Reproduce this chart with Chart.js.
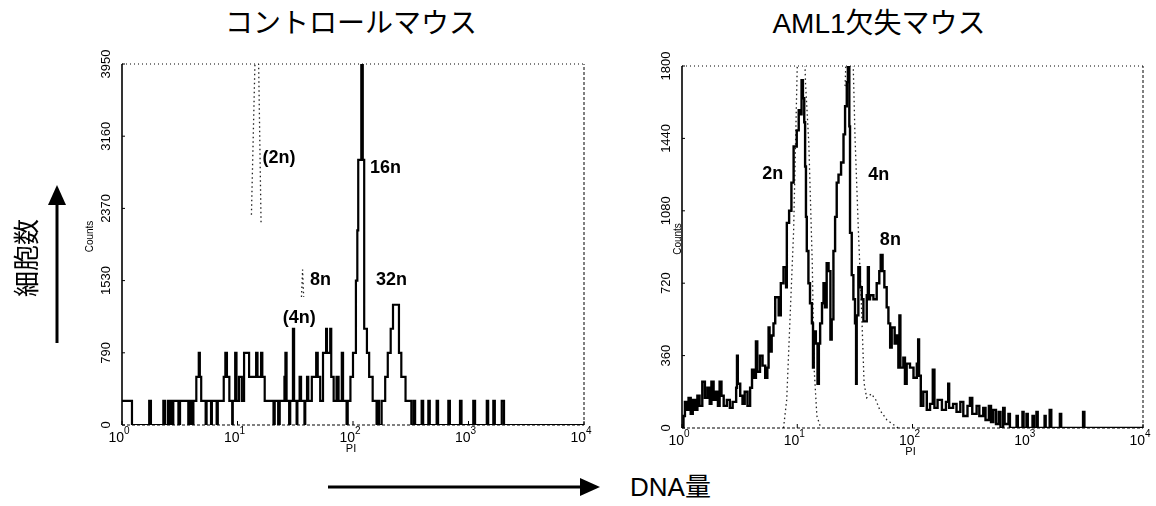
<!DOCTYPE html>
<html lang="ja">
<head>
<meta charset="utf-8">
<title>DNA量ヒストグラム</title>
<script src="https://cdn.jsdelivr.net/npm/chart.js@4.4.1/dist/chart.umd.min.js"></script>
<style>
  html, body { margin: 0; padding: 0; background: #fff; }
  body { width: 1156px; height: 506px; position: relative; overflow: hidden; color: #000; }
  canvas { position: absolute; top: 0; }
  #ctrl-chart { left: 0; }
  #aml-chart { left: 600px; }
  .title { position: absolute; top: 9px; font: 28px/30px "Liberation Sans", "Noto Sans CJK JP", sans-serif; transform: translateX(-50%); white-space: nowrap; }
  #y-label { position: absolute; left: 25px; top: 258px; font: 26px/26px "Noto Sans CJK JP", sans-serif; transform: translate(-50%, -50%) rotate(-90deg); white-space: nowrap; }
  #x-label { position: absolute; left: 630px; top: 473px; font: 26px/28px "Liberation Sans", "Noto Sans CJK JP", sans-serif; white-space: nowrap; }
  svg { position: absolute; left: 0; top: 0; }
</style>
</head>
<body>
<div class="title" style="left: 351px;">コントロールマウス</div>
<div class="title" style="left: 879px;">AML1欠失マウス</div>
<canvas id="ctrl-chart" width="600" height="470"></canvas>
<canvas id="aml-chart" width="556" height="470"></canvas>
<div id="y-label">細胞数</div>
<div id="x-label">DNA量</div>
<svg width="1156" height="506">
  <line x1="57" y1="343" x2="57" y2="200" stroke="#000" stroke-width="3"/>
  <polygon points="57,185 48,205 66,205" fill="#000"/>
  <line x1="328" y1="487" x2="584" y2="487" stroke="#000" stroke-width="3"/>
  <polygon points="600,487 580,478 580,496" fill="#000"/>
</svg>
<script>
// control mouse, PI channel value -> counts (step histogram)
const ctrl_pi = [
    1.0, 1.22, 1.72, 1.78, 2.28, 2.36, 2.5, 2.58, 2.64, 2.72,
    2.78, 3.08, 3.18, 3.75, 3.88, 4.05, 4.15, 4.4, 4.62, 4.72,
    4.85, 5.3, 5.4, 5.9, 6.0, 6.6, 6.75, 7.6, 7.85, 8.1,
    8.5, 9.0, 9.1, 9.55, 9.8, 10.3, 10.9, 11.4, 12.6, 14.5,
    14.9, 16.0, 16.4, 17.2, 20.5, 21.0, 22.5, 23.2, 25.5, 26.0,
    26.6, 28.0, 28.6, 30.2, 30.9, 32.5, 33.0, 34.5, 35.5, 38.0,
    38.6, 40.0, 41.0, 44.0, 48.0, 49.5, 52.0, 55.0, 58.5, 59.5,
    63.5, 64.8, 68.0, 72.0, 75.0, 80.0, 82.0, 88.0, 90.0, 95.0,
    100, 106, 109, 111, 118, 121.5, 125, 132, 138, 148,
    160, 165, 168, 177, 190, 200, 212, 222, 250, 262,
    285, 320, 335, 345, 393, 405, 449, 462, 530, 545,
    669, 690, 844, 870, 1100, 1140, 1440, 1480, 1640, 1690,
    1940, 2030, 10000
];
const ctrl_counts = [
    263, 0, 263, 0, 263, 0, 263, 0, 263, 0,
    263, 0, 263, 0, 263, 0, 263, 526, 790, 526,
    263, 0, 263, 0, 263, 0, 263, 526, 790, 526,
    263, 0, 263, 790, 263, 526, 263, 790, 526, 790,
    526, 790, 526, 263, 0, 263, 0, 263, 526, 790,
    263, 0, 263, 1053, 263, 0, 263, 526, 263, 0,
    263, 526, 263, 526, 790, 526, 263, 790, 1053, 790,
    1053, 526, 263, 526, 263, 790, 263, 0, 263, 526,
    790, 1580, 2130, 2900, 3950, 2900, 1053, 790, 526, 263,
    0, 263, 0, 263, 526, 790, 1053, 1316, 790, 526,
    263, 0, 263, 0, 263, 0, 263, 0, 263, 0,
    263, 0, 263, 0, 263, 0, 263, 0, 263, 0,
    263, 0, 0
];
// dotted reference trace
const ctrl_ref_pi = [13.2, 14.8, 16.0, 16.0, 35.8, 36.6, 37.4];
const ctrl_ref_counts = [2300, 5000, 2200, null, 1400, 1700, 1400];

// AML1 deficient mouse
const aml_pi = [
    1.0, 1.03, 1.06, 1.10, 1.14, 1.19, 1.24, 1.30, 1.36, 1.42,
    1.50, 1.58, 1.66, 1.74, 1.80, 1.88, 1.96, 2.05, 2.12, 2.2,
    2.3, 2.45, 2.6, 2.75, 2.95, 3.0, 3.05, 3.2, 3.35, 3.5,
    3.7, 3.9, 4.05, 4.25, 4.38, 4.5, 4.75, 5.0, 5.27, 5.5,
    5.64, 5.75, 6.0, 6.22, 6.44, 6.9, 7.2, 7.6, 8.0, 8.12,
    8.5, 8.9, 9.3, 9.9, 10.3, 10.7, 10.9, 11.2, 11.5, 11.7,
    11.9, 12.1, 12.5, 12.9, 13.4, 13.7, 13.9, 14.5, 15.0, 15.4,
    15.8, 16.4, 16.9, 17.4, 18.0, 18.7, 19.4, 19.9, 20.6, 21.3,
    22.0, 22.8, 24.0, 25.2, 26.0, 26.9, 27.5, 28.3, 28.7, 29.7,
    30.7, 31.7, 32.4, 32.8, 33.9, 35.0, 36.3, 37.5, 40.1, 41.0,
    41.8, 42.8, 45.8, 48.9, 51.5, 53.0, 55.0, 57.0, 59.7, 61.8,
    64, 66, 70, 72.9, 75.4, 77, 78.5, 83.3, 86, 89,
    95.1, 102, 109, 112, 114, 118, 124, 133, 142, 150,
    155, 165, 180, 195, 204, 208, 225, 241, 260, 276,
    300, 315, 330, 360, 380, 411, 430, 460, 480, 502,
    530, 560, 580, 612, 630, 680, 700, 800, 820, 900,
    920, 975, 1000, 1100, 1130, 1190, 1220, 1400, 1430, 1550,
    1600, 1900, 1950, 3020, 3100, 10000
];
const aml_counts = [
    0, 60, 130, 90, 150, 70, 140, 90, 160, 110,
    230, 150, 200, 120, 230, 140, 180, 110, 230, 160,
    110, 140, 100, 130, 200, 360, 220, 160, 120, 180,
    110, 200, 290, 250, 430, 280, 360, 310, 250, 300,
    500, 380, 460, 520, 650, 560, 720, 800, 700, 1020,
    1080, 1220, 1400, 1480, 1580, 1560, 1730, 1640, 1520, 1300,
    1050, 880, 720, 620, 520, 300, 480, 420, 220, 420,
    520, 620, 720, 600, 820, 780, 440, 540, 880, 1050,
    1220, 1260, 1320, 1460, 1600, 1720, 1800, 1500, 970, 760,
    640, 520, 220, 560, 800, 700, 640, 530, 660, 800,
    640, 660, 640, 720, 780, 860, 780, 700, 600, 520,
    400, 500, 420, 460, 300, 560, 300, 350, 220, 320,
    300, 250, 320, 440, 260, 110, 180, 90, 120, 290,
    100, 140, 90, 130, 220, 100, 120, 80, 130, 60,
    110, 150, 70, 110, 60, 100, 40, 110, 30, 90,
    20, 80, 0, 100, 20, 70, 0, 60, 0, 80,
    0, 70, 0, 60, 0, 80, 0, 60, 0, 90,
    0, 70, 0, 80, 0, 0
];
const aml_ref_pi = [7.6, 8.1, 9.3, 10.0, 11.0, 11.8, 12.6, 13.5, 14.0, 14.8, 16.0, 16.0,
    26.0, 28.0, 30.0, 31.7, 33.9, 36.0, 38.0, 40.0, 44.0, 48.0, 52.0, 60.0, 75.0];
const aml_ref_counts = [0, 140, 980, 1800, 2300, 1714, 1415, 820, 300, 60, 0, null,
    1700, 2200, 2000, 1450, 985, 620, 224, 150, 170, 140, 90, 40, 0];

const decade_ticks = [1, 10, 100, 1000, 10000];
const ctrl_y_ticks = [0, 790, 1580, 2370, 3160, 3950];
const ctrl_y_labels = ["0", "790", "1530", "2370", "3160", "3950"];
const aml_y_ticks = [0, 360, 720, 1080, 1440, 1800];
const aml_y_labels = ["0", "360", "720", "1080", "1440", "1800"];

const ctrl_notes = [
    { text: "(2n)", pi: 16.5, count: 2920 },
    { text: "16n", pi: 140, count: 2810 },
    { text: "8n", pi: 42.4, count: 1586 },
    { text: "32n", pi: 158, count: 1586 },
    { text: "(4n)", pi: 24.6, count: 1170 }
];
const aml_notes = [
    { text: "2n", pi: 4.96, count: 1263 },
    { text: "4n", pi: 41.4, count: 1258 },
    { text: "8n", pi: 52.1, count: 935 }
];

const to_points = (xs, ys) => xs.map((x, i) => ({ x: x, y: ys[i] }));

const frame_plugin = {
    id: "frame",
    afterDatasetsDraw(chart, args, opts) {
        const ctx = chart.ctx;
        const a = chart.chartArea;
        const x = chart.scales.x;
        const y = chart.scales.y;
        ctx.save();
        ctx.strokeStyle = "#000";
        ctx.fillStyle = "#000";

        ctx.lineWidth = 1.6;
        ctx.beginPath();
        ctx.moveTo(a.left, a.top);
        ctx.lineTo(a.left, a.bottom);
        ctx.stroke();

        ctx.lineWidth = 1;
        ctx.setLineDash([3, 2]);
        ctx.beginPath();
        ctx.moveTo(a.left, a.bottom);
        ctx.lineTo(a.right, a.bottom);
        ctx.moveTo(a.right, a.bottom);
        ctx.lineTo(a.right, a.top);
        ctx.stroke();
        ctx.setLineDash([1, 3]);
        ctx.beginPath();
        ctx.moveTo(a.left, a.top);
        ctx.lineTo(a.right, a.top);
        ctx.stroke();
        ctx.setLineDash([]);

        // y ticks, labels turned to read upward
        ctx.font = "13px 'Liberation Sans', Arial, sans-serif";
        ctx.textAlign = "center";
        ctx.textBaseline = "middle";
        opts.y_ticks.forEach((v, i) => {
            const py = y.getPixelForValue(v);
            ctx.beginPath();
            ctx.moveTo(a.left, py);
            ctx.lineTo(a.left + 3, py);
            ctx.stroke();
            ctx.save();
            ctx.translate(opts.tick_x, py);
            ctx.rotate(-Math.PI / 2);
            ctx.fillText(opts.y_labels[i], 0, 0);
            ctx.restore();
        });

        ctx.save();
        ctx.font = "10px 'Liberation Sans', Arial, sans-serif";
        ctx.translate(opts.counts_x, (a.top + a.bottom) / 2 - 8);
        ctx.rotate(-Math.PI / 2);
        ctx.fillText("Counts", 0, 0);
        ctx.restore();

        // x decades as 10 with raised exponent
        ctx.textBaseline = "alphabetic";
        decade_ticks.forEach((v, i) => {
            const px = x.getPixelForValue(v);
            ctx.beginPath();
            ctx.moveTo(px, a.bottom);
            ctx.lineTo(px, a.bottom - 4);
            ctx.stroke();
            ctx.font = "14px 'Liberation Sans', Arial, sans-serif";
            ctx.textAlign = "right";
            ctx.fillText("10", px + 2, a.bottom + 17);
            ctx.font = "10px 'Liberation Sans', Arial, sans-serif";
            ctx.textAlign = "left";
            ctx.fillText(String(i), px + 2, a.bottom + 9);
        });
        ctx.font = "11px 'Liberation Sans', Arial, sans-serif";
        ctx.textAlign = "center";
        ctx.fillText("PI", x.getPixelForValue(100) - 2, a.bottom + 27);

        ctx.font = "bold 18px 'Liberation Sans', Arial, sans-serif";
        ctx.textAlign = "left";
        ctx.textBaseline = "middle";
        opts.notes.forEach((n) => {
            ctx.fillText(n.text, x.getPixelForValue(n.pi), y.getPixelForValue(n.count));
        });
        ctx.restore();
    }
};

const make_chart = (canvas_id, pi, counts, ref_pi, ref_counts, y_max, frame_opts, pad, y_w, x_h, line_w) => {
    return new Chart(document.getElementById(canvas_id), {
        type: "line",
        data: {
            datasets: [{
                data: to_points(pi, counts),
                stepped: true,
                borderColor: "#000",
                borderWidth: line_w,
                pointRadius: 0,
                fill: false
            }, {
                data: to_points(ref_pi, ref_counts),
                borderColor: "#222",
                borderWidth: 1.3,
                borderDash: [1.5, 3],
                pointRadius: 0,
                spanGaps: false,
                fill: false
            }]
        },
        options: {
            responsive: false,
            animation: false,
            devicePixelRatio: 1,
            layout: { padding: pad },
            plugins: {
                legend: { display: false },
                tooltip: { enabled: false },
                frame: frame_opts
            },
            scales: {
                x: {
                    type: "logarithmic",
                    min: 1,
                    max: 10000,
                    grid: { display: false },
                    border: { display: false },
                    ticks: { display: false },
                    afterFit: (s) => { s.height = x_h; }
                },
                y: {
                    min: 0,
                    max: y_max,
                    grid: { display: false },
                    border: { display: false },
                    ticks: { display: false },
                    afterFit: (s) => { s.width = y_w; }
                }
            }
        },
        plugins: [frame_plugin]
    });
};

make_chart("ctrl-chart", ctrl_pi, ctrl_counts, ctrl_ref_pi, ctrl_ref_counts, 3950,
    { y_ticks: ctrl_y_ticks, y_labels: ctrl_y_labels, notes: ctrl_notes, tick_x: 106, counts_x: 90 },
    { top: 64, right: 16, left: 0, bottom: 0 }, 122, 45, 2.2);

make_chart("aml-chart", aml_pi, aml_counts, aml_ref_pi, aml_ref_counts, 1800,
    { y_ticks: aml_y_ticks, y_labels: aml_y_labels, notes: aml_notes, tick_x: 66, counts_x: 78 },
    { top: 66, right: 13, left: 0, bottom: 0 }, 82, 42, 2.4);
</script>
</body>
</html>
